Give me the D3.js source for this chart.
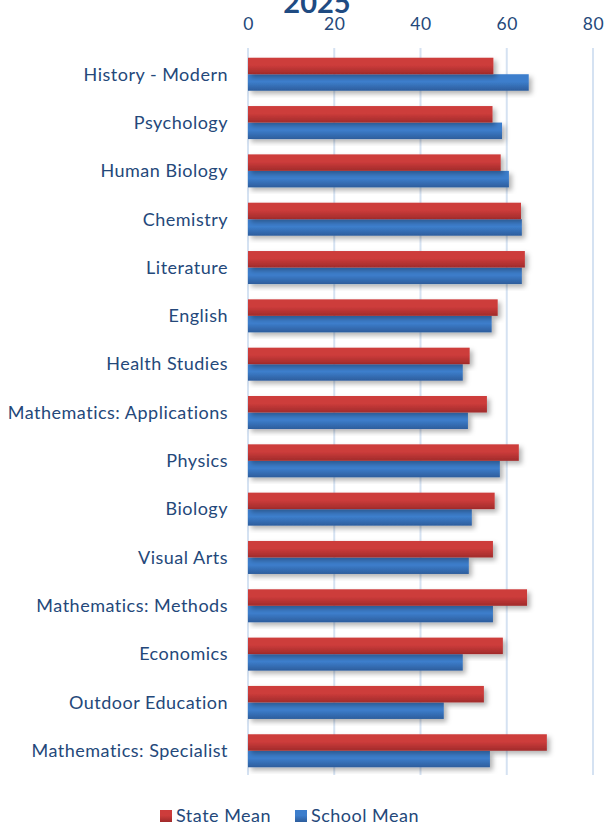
<!DOCTYPE html>
<html>
<head>
<meta charset="utf-8">
<script src="https://cdn.jsdelivr.net/npm/d3@7"></script>
<style>
  body { margin: 0; background: #fff; }
  text { font-family: Lato, "Open Sans", sans-serif; fill: #24487a; }
</style>
</head>
<body>
<main></main>
<script>
// subject means
let subjects = [
  'History - Modern', 'Psychology', 'Human Biology', 'Chemistry', 'Literature',
  'English', 'Health Studies', 'Mathematics: Applications', 'Physics', 'Biology',
  'Visual Arts', 'Mathematics: Methods', 'Economics', 'Outdoor Education',
  'Mathematics: Specialist'
];
let stateMean = [56.9, 56.7, 58.6, 63.3, 64.2, 57.9, 51.4, 55.4, 62.8, 57.2, 56.8, 64.7, 59.1, 54.7, 69.3];
let schoolMean = [65.1, 58.9, 60.5, 63.5, 63.5, 56.5, 49.8, 51.0, 58.4, 51.9, 51.2, 56.8, 49.8, 45.4, 56.1];
let seriesNames = ['State Mean', 'School Mean'];
let xTicks = [0, 20, 40, 60, 80];

let width = 604;
let height = 825;

let svg = d3.select('main')
  .append('svg')
  .attr('width', width)
  .attr('height', height);

let defs = svg.append('defs');

// gradients like the office-style bars
function addGradient(id, top, bottom) {
  let g = defs.append('linearGradient')
    .attr('id', id)
    .attr('x1', 0).attr('y1', 0).attr('x2', 0).attr('y2', 1);
  g.append('stop').attr('offset', '0%').attr('stop-color', top);
  g.append('stop').attr('offset', '45%').attr('stop-color', top);
  g.append('stop').attr('offset', '100%').attr('stop-color', bottom);
}
addGradient('gradState', '#cd3c3b', '#a02b2b');
addGradient('gradSchool', '#3d7ecc', '#2d5d9c');

let shadow = defs.append('filter')
  .attr('id', 'shadow')
  .attr('x', '-5%').attr('y', '-20%').attr('width', '115%').attr('height', '160%');
shadow.append('feDropShadow')
  .attr('dx', 3).attr('dy', 3).attr('stdDeviation', 2.5)
  .attr('flood-color', '#000').attr('flood-opacity', 0.3);

let x = d3.scaleLinear()
  .domain([0, 80])
  .range([248, 593]);

let y = d3.scaleBand()
  .domain(subjects)
  .range([50, 775])
  .paddingInner(0.317)
  .paddingOuter(0.16);

let inner = d3.scaleBand()
  .domain(seriesNames)
  .range([0, y.bandwidth()]);

// title, clipped at the top edge like the source
svg.append('text')
  .attr('x', 317)
  .attr('y', 13)
  .attr('text-anchor', 'middle')
  .style('font-size', '29px')
  .style('font-weight', 'bold')
  .style('fill', '#1f4b82')
  .text('2025');

// gridlines
svg.append('g')
  .selectAll('line')
  .data(xTicks)
  .enter().append('line')
  .attr('x1', d => x(d))
  .attr('x2', d => x(d))
  .attr('y1', 48)
  .attr('y2', 775)
  .attr('stroke', '#d5e2f2')
  .attr('stroke-width', 2);

// top axis
let xAxis = svg.append('g')
  .attr('transform', 'translate(0,30)')
  .call(d3.axisTop(x).tickValues(xTicks).tickSize(0).tickPadding(0));
xAxis.select('.domain').remove();
xAxis.selectAll('text')
  .style('font-size', '17.5px')
  .style('letter-spacing', '0.5px')
  .attr('fill', '#24487a');

// category labels
svg.append('g')
  .selectAll('text')
  .data(subjects)
  .enter().append('text')
  .attr('x', 228)
  .attr('y', d => y(d) + y.bandwidth() / 2)
  .attr('dy', '0.35em')
  .attr('text-anchor', 'end')
  .style('font-size', '18px')
  .style('letter-spacing', '0.5px')
  .text(d => d);

// bars
let rows = subjects.map((s, i) => ({ subject: s, values: [stateMean[i], schoolMean[i]] }));
let fills = ['url(#gradState)', 'url(#gradSchool)'];

let groups = svg.append('g')
  .selectAll('g')
  .data(rows)
  .enter().append('g')
  .attr('transform', d => 'translate(0,' + y(d.subject) + ')');

// blue first so the red shadow sits on top of it, as in the source
[1, 0].forEach(k => {
  groups.append('rect')
    .attr('x', x(0))
    .attr('y', inner(seriesNames[k]))
    .attr('width', d => x(d.values[k]) - x(0))
    .attr('height', inner.bandwidth())
    .attr('fill', fills[k])
    .attr('filter', 'url(#shadow)');
});

// legend
let legend = svg.append('g')
  .attr('transform', 'translate(160,816)');
let legendX = [0, 135];
seriesNames.forEach((name, i) => {
  legend.append('rect')
    .attr('x', legendX[i])
    .attr('y', -6)
    .attr('width', 12)
    .attr('height', 12)
    .attr('fill', fills[i]);
  legend.append('text')
    .attr('x', legendX[i] + 16)
    .attr('y', 0)
    .attr('dy', '0.35em')
    .style('font-size', '18px')
    .style('letter-spacing', '0.5px')
    .text(name);
});
</script>
</body>
</html>
